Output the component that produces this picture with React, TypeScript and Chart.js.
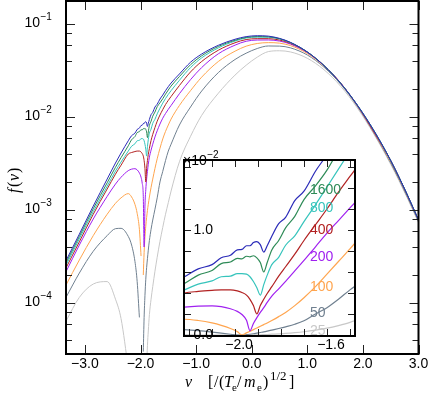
import React, { useEffect, useRef } from 'react';
import { Chart, registerables } from 'chart.js';

Chart.register(...registerables);

// velocity grid [/(Te/me)^1/2]
const V = [-3.34, -3.1, -2.85, -2.6, -2.45, -2.35, -2.22, -2.16, -2.10, -2.06, -2.02, -1.99, -1.97, -1.95, -1.935, -1.92, -1.905, -1.89, -1.875, -1.86, -1.84, -1.81, -1.78, -1.74, -1.70, -1.65, -1.60, -1.55, -1.50, -1.45, -1.3, -1.1, -0.9, -0.6, -0.3, -0.1, 0.1, 0.3, 0.5, 0.7, 1.0, 1.3, 1.6, 1.9, 2.2, 2.5, 2.8, 3.0];

const fTop = [2.85e-4, 5.5e-4, 1.1e-3, 2.15e-3, 3.2e-3, 4.1e-3, 5.55e-3, 6.3e-3, 6.7e-3, 7.35e-3, 7.6e-3, 8.1e-3, 8.15e-3, 8.5e-3, 8.5e-3, 8.8e-3, 8.9e-3, 8.6e-3, 7.9e-3, 8.5e-3, 9.4e-3, 1.06e-2, 1.12e-2, 1.28e-2, 1.37e-2, 1.56e-2, 1.72e-2, 1.92e-2, 2.12e-2, 2.32e-2, 2.9e-2, 3.88e-2, 4.75e-2, 5.9e-2, 6.85e-2, 7.31e-2, 7.48e-2, 7.4e-2, 7.0e-2, 6.33e-2, 5.0e-2, 3.57e-2, 2.3e-2, 1.34e-2, 7.1e-3, 3.4e-3, 1.45e-3, 7.8e-4];
const f1600 = [2.7e-4, 5.2e-4, 1.03e-3, 1.96e-3, 2.88e-3, 3.65e-3, 4.9e-3, 5.7e-3, 6.15e-3, 6.8e-3, 6.95e-3, 7.3e-3, 7.25e-3, 7.5e-3, 7.45e-3, 7.55e-3, 7.35e-3, 6.9e-3, 6.0e-3, 6.9e-3, 8.1e-3, 9.0e-3, 1.02e-2, 1.13e-2, 1.29e-2, 1.42e-2, 1.57e-2, 1.76e-2, 1.95e-2, 2.15e-2, 2.72e-2, 3.65e-2, 4.55e-2, 5.73e-2, 6.68e-2, 7.16e-2, 7.32e-2, 7.28e-2, 6.95e-2, 6.31e-2, 5.0e-2, 3.57e-2, 2.3e-2, 1.34e-2, 7.1e-3, 3.4e-3, 1.45e-3, 7.8e-4];
const f800 = [2.55e-4, 4.9e-4, 9.6e-4, 1.8e-3, 2.62e-3, 3.28e-3, 4.3e-3, 4.85e-3, 5.15e-3, 5.55e-3, 5.6e-3, 5.85e-3, 5.85e-3, 5.8e-3, 5.55e-3, 5.1e-3, 4.5e-3, 3.8e-3, 4.8e-3, 5.7e-3, 6.7e-3, 7.4e-3, 8.55e-3, 9.45e-3, 1.08e-2, 1.24e-2, 1.41e-2, 1.58e-2, 1.75e-2, 1.92e-2, 2.48e-2, 3.4e-2, 4.32e-2, 5.53e-2, 6.55e-2, 7.07e-2, 7.22e-2, 7.2e-2, 6.9e-2, 6.29e-2, 5.0e-2, 3.57e-2, 2.3e-2, 1.34e-2, 7.1e-3, 3.4e-3, 1.45e-3, 7.8e-4];
const f400 = [2.38e-4, 4.55e-4, 9.0e-4, 1.68e-3, 2.43e-3, 3.03e-3, 4.0e-3, 4.15e-3, 4.25e-3, 4.3e-3, 4.3e-3, 4.2e-3, 4.05e-3, 3.8e-3, 3.4e-3, 2.8e-3, 2.0e-3, 2.8e-3, 3.4e-3, 3.95e-3, 4.6e-3, 5.6e-3, 6.5e-3, 7.7e-3, 9.0e-3, 1.05e-2, 1.2e-2, 1.36e-2, 1.51e-2, 1.66e-2, 2.18e-2, 3.05e-2, 3.95e-2, 5.22e-2, 6.28e-2, 6.8e-2, 6.95e-2, 6.95e-2, 6.72e-2, 6.18e-2, 4.98e-2, 3.58e-2, 2.32e-2, 1.33e-2, 6.9e-3, 3.4e-3, 1.44e-3, 7.8e-4];
const f200 = [2.17e-4, 4.2e-4, 8.0e-4, 1.4e-3, 1.9e-3, 2.25e-3, 2.65e-3, 2.75e-3, 2.78e-3, 2.7e-3, 2.5e-3, 2.25e-3, 1.95e-3, 1.4e-3, 4.0e-4, 1.1e-3, 1.65e-3, 2.15e-3, 2.6e-3, 3.1e-3, 3.7e-3, 4.4e-3, 5.1e-3, 6.1e-3, 7.1e-3, 8.4e-3, 9.7e-3, 1.09e-2, 1.21e-2, 1.33e-2, 1.78e-2, 2.52e-2, 3.4e-2, 4.78e-2, 5.92e-2, 6.52e-2, 6.72e-2, 6.73e-2, 6.55e-2, 6.07e-2, 4.93e-2, 3.56e-2, 2.31e-2, 1.33e-2, 6.9e-3, 3.4e-3, 1.44e-3, 7.8e-4];
const f100 = [1.56e-4, 2.9e-4, 5.3e-4, 9.0e-4, 1.18e-3, 1.35e-3, 1.5e-3, 1.38e-3, 1.15e-3, 9.2e-4, 6.2e-4, 3.2e-4, 0, 2.0e-4, 3.5e-4, 5.1e-4, 6.7e-4, 8.3e-4, 9.9e-4, 1.15e-3, 1.38e-3, 1.75e-3, 2.15e-3, 2.8e-3, 3.55e-3, 4.6e-3, 5.8e-3, 7.0e-3, 8.2e-3, 9.5e-3, 1.33e-2, 1.92e-2, 2.68e-2, 3.95e-2, 5.1e-2, 5.77e-2, 6.17e-2, 6.3e-2, 6.22e-2, 5.85e-2, 4.82e-2, 3.52e-2, 2.29e-2, 1.32e-2, 6.8e-3, 3.3e-3, 1.42e-3, 7.7e-4];
const f50 = [1.15e-4, 2.1e-4, 3.6e-4, 5.3e-4, 6.3e-4, 6.35e-4, 5.2e-4, 4.2e-4, 2.8e-4, 1.7e-4, 7e-5, 0, 0, 3e-5, 7e-5, 1.2e-4, 1.8e-4, 2.4e-4, 3.0e-4, 3.7e-4, 4.7e-4, 6.2e-4, 7.8e-4, 1.02e-3, 1.35e-3, 2.0e-3, 2.6e-3, 3.4e-3, 4.3e-3, 5.1e-3, 8.2e-3, 1.28e-2, 1.9e-2, 3.0e-2, 4.15e-2, 4.85e-2, 5.45e-2, 5.8e-2, 5.78e-2, 5.53e-2, 4.64e-2, 3.43e-2, 2.25e-2, 1.3e-2, 6.7e-3, 3.2e-3, 1.38e-3, 7.5e-4];
const f25 = [6.4e-5, 1.15e-4, 1.6e-4, 1.7e-4, 1.1e-4, 6.8e-5, 2.0e-5, 0, 0, 0, 0, 0, 0, 0, 0, 0, 1e-5, 2e-5, 3.5e-5, 5e-5, 7.5e-5, 1.1e-4, 1.5e-4, 2.2e-4, 3.1e-4, 4.6e-4, 6.5e-4, 9.0e-4, 1.2e-3, 1.6e-3, 3.3e-3, 6.2e-3, 1.04e-2, 1.8e-2, 2.82e-2, 3.6e-2, 4.4e-2, 5.05e-2, 5.15e-2, 5.0e-2, 4.28e-2, 3.22e-2, 2.14e-2, 1.25e-2, 6.5e-3, 3.1e-3, 1.34e-3, 7.3e-4];

const seriesLabels = ['', '1600', '800', '400', '200', '100', '50', '25'];
const seriesValues = [fTop, f1600, f800, f400, f200, f100, f50, f25];
const seriesColors = ['#2b2bb8', '#2e8b57', '#36c4bc', '#b22222', '#a020f0', '#ffa54f', '#708090', '#c8c8c8'];

const xTickValues = [-3, -2, -1, 0, 1, 2, 3];
const xTickLabels = ['\u22123.0', '\u22122.0', '\u22121.0', '0.0', '1.0', '2.0', '3.0'];
const yMajorValues = [1e-4, 1e-3, 1e-2, 1e-1];
const yMajorExponents = ['\u22124', '\u22123', '\u22122', '\u22121'];
const yMinorValues = [4e-5, 6e-5, 8e-5, 2e-4, 4e-4, 6e-4, 8e-4, 2e-3, 4e-3, 6e-3, 8e-3, 2e-2, 4e-2, 6e-2, 8e-2];

const insetXTicks = [-2.2, -2.1, -2.0, -1.9, -1.8, -1.7, -1.6, -1.5];
const insetXLabelValues = [-2.0, -1.6];
const insetXLabels = ['\u22122.0', '\u22121.6'];
const insetYTicks = [0, 0.002, 0.004, 0.006, 0.008, 0.01, 0.012, 0.014, 0.016];
const insetYLabelValues = [0, 0.01];
const insetYLabels = ['0.0', '1.0'];

const SANS = '"Liberation Sans", Arial, Helvetica, sans-serif';
const SERIF = '"Liberation Serif", "Times New Roman", serif';

type Seg = [string, 'i' | 'n' | 'sub' | 'sup', number];

function segFont(kind: string, size: number) {
  if (kind === 'sub') return `${Math.round(size * 0.7)}px ${SERIF}`;
  if (kind === 'sup') return `${Math.round(size * 0.8)}px ${SERIF}`;
  return `${kind === 'i' ? 'italic ' : ''}${size}px ${SERIF}`;
}
// segments drawn at explicit x offsets
function drawSegs(ctx: CanvasRenderingContext2D, segs: Seg[], x: number, y: number, size: number) {
  ctx.textAlign = 'left';
  ctx.textBaseline = 'alphabetic';
  for (const [t, k, dx] of segs) {
    ctx.font = segFont(k, size);
    const dy = k === 'sub' ? size * 0.28 : k === 'sup' ? -size * 0.42 : 0;
    ctx.fillText(t, x + dx, y + dy);
  }
}

const mainDecor = {
  id: 'mainDecor',
  afterDraw(chart: any) {
    const { ctx, chartArea: a, scales } = chart;
    const x = scales.x, y = scales.y;
    ctx.save();
    ctx.strokeStyle = '#222';
    ctx.lineWidth = 1;
    const seg = (x1: number, y1: number, x2: number, y2: number) => {
      ctx.beginPath(); ctx.moveTo(x1, y1); ctx.lineTo(x2, y2); ctx.stroke();
    };
    xTickValues.forEach((v) => {
      const px = Math.round(x.getPixelForValue(v)) + 0.5;
      seg(px, a.bottom, px, a.bottom - 9);
      seg(px, a.top, px, a.top + 9);
    });
    yMajorValues.forEach((v) => {
      const py = Math.round(y.getPixelForValue(v)) + 0.5;
      seg(a.left, py, a.left + 9, py);
      seg(a.right, py, a.right - 9, py);
    });
    yMinorValues.forEach((v) => {
      const py = Math.round(y.getPixelForValue(v)) + 0.5;
      seg(a.left, py, a.left + 6, py);
      seg(a.right, py, a.right - 6, py);
    });
    ctx.strokeStyle = '#000';
    ctx.lineWidth = 2;
    ctx.strokeRect(a.left, a.top, a.right - a.left, a.bottom - a.top);

    ctx.fillStyle = '#000';
    ctx.font = `14px ${SANS}`;
    ctx.textAlign = 'center';
    ctx.textBaseline = 'middle';
    xTickValues.forEach((v, i) => {
      ctx.fillText(xTickLabels[i], x.getPixelForValue(v), a.bottom + 10);
    });
    yMajorValues.forEach((v, i) => {
      const py = y.getPixelForValue(v);
      const right = a.left - 26;
      ctx.font = `14px ${SANS}`;
      ctx.textAlign = 'right';
      ctx.textBaseline = 'middle';
      ctx.fillText('10', right, py - 1);
      ctx.font = `10px ${SANS}`;
      ctx.textAlign = 'left';
      ctx.fillText(yMajorExponents[i], right + 0.5, py - 7);
    });

    // axis titles
    const xt: Seg[] = [['v', 'i', 0], ['[', 'n', 23], ['/', 'n', 29], ['(', 'n', 34], ['T', 'i', 39], ['e', 'sub', 47], ['/', 'n', 52], ['m', 'i', 59], ['e', 'sub', 72], [')', 'n', 78], ['1/2', 'sup', 85], [']', 'n', 104]];
    drawSegs(ctx, xt, 185, 387, 16);
    const yt: Seg[] = [['f', 'i', 0], ['(', 'n', 6], ['v', 'i', 12], [')', 'n', 20]];
    ctx.save();
    ctx.translate(19, 193);
    ctx.rotate(-Math.PI / 2);
    drawSegs(ctx, yt, 0, 0, 16);
    ctx.restore();
    ctx.restore();
  },
};

const insetDecor = {
  id: 'insetDecor',
  beforeDatasetsDraw(chart: any) {
    const { ctx, chartArea: a } = chart;
    ctx.save();
    ctx.fillStyle = '#fff';
    ctx.fillRect(a.left, a.top, a.right - a.left, a.bottom - a.top);
    ctx.restore();
  },
  afterDraw(chart: any) {
    const { ctx, chartArea: a, scales } = chart;
    const x = scales.x, y = scales.y;
    ctx.save();
    ctx.strokeStyle = '#222';
    ctx.lineWidth = 1;
    const seg = (x1: number, y1: number, x2: number, y2: number) => {
      ctx.beginPath(); ctx.moveTo(x1, y1); ctx.lineTo(x2, y2); ctx.stroke();
    };
    insetXTicks.forEach((v) => {
      const px = Math.round(x.getPixelForValue(v)) + 0.5;
      seg(px, a.bottom, px, a.bottom - 7);
      seg(px, a.top, px, a.top + 7);
    });
    insetYTicks.forEach((v) => {
      const py = Math.round(y.getPixelForValue(v)) + 0.5;
      seg(a.left, py, a.left + 7, py);
      seg(a.right, py, a.right - 7, py);
    });
    ctx.strokeStyle = '#000';
    ctx.lineWidth = 2;
    ctx.strokeRect(a.left, a.top, a.right - a.left, a.bottom - a.top);

    ctx.fillStyle = '#000';
    ctx.font = `14px ${SANS}`;
    ctx.textAlign = 'center';
    ctx.textBaseline = 'middle';
    insetXLabelValues.forEach((v, i) => {
      ctx.fillText(insetXLabels[i], x.getPixelForValue(v) + 4, a.bottom + 9);
    });
    ctx.textAlign = 'right';
    insetYLabelValues.forEach((v, i) => {
      ctx.fillText(insetYLabels[i], a.left + 29, y.getPixelForValue(v));
    });
    ctx.textAlign = 'left';
    ctx.fillText('\u00d710', a.left - 1, a.top + 1);
    const w = ctx.measureText('\u00d710').width;
    ctx.font = `10px ${SANS}`;
    ctx.fillText('\u22122', a.left - 1 + w + 0.5, a.top - 5);

    // curve labels
    const labelX = -1.674;
    const labelY = [0, 0.01381, 0.0121, 0.0100, 0.00743, 0.00457, 0.0021, 0.00038];
    ctx.font = `14px ${SANS}`;
    ctx.textAlign = 'left';
    ctx.textBaseline = 'middle';
    seriesLabels.forEach((t, i) => {
      if (!t) return;
      ctx.fillStyle = seriesColors[i];
      ctx.fillText(t, x.getPixelForValue(labelX), y.getPixelForValue(labelY[i]));
    });
    ctx.restore();
  },
};

function makeDatasets(width: number) {
  return seriesValues.map((vals, s) => ({
    data: V.map((v, i) => ({ x: v, y: vals[i] })),
    borderColor: seriesColors[s],
    borderWidth: width,
    pointRadius: 0,
    fill: false,
    cubicInterpolationMode: 'monotone' as const,
  }));
}

export default function App() {
  const mainRef = useRef<HTMLCanvasElement>(null);
  const insetRef = useRef<HTMLCanvasElement>(null);

  useEffect(() => {
    document.body.style.margin = '0';
    const main = new Chart(mainRef.current!, {
      type: 'line',
      data: { datasets: makeDatasets(1) },
      options: {
        animation: false,
        responsive: false,
        devicePixelRatio: 1,
        events: [],
        layout: { padding: { left: 66, right: 10.5, top: 1, bottom: 44 } },
        scales: {
          x: { type: 'linear', min: -3.34, max: 3.0, display: false },
          y: { type: 'logarithmic', min: 2.83e-5, max: 0.1766, display: false },
        },
        plugins: { legend: { display: false }, tooltip: { enabled: false } },
      },
      plugins: [mainDecor],
    } as any);
    const inset = new Chart(insetRef.current!, {
      type: 'line',
      data: { datasets: makeDatasets(1.2) },
      options: {
        animation: false,
        responsive: false,
        devicePixelRatio: 1,
        events: [],
        layout: { padding: { left: 20, right: 19, top: 20, bottom: 24 } },
        scales: {
          x: { type: 'linear', min: -2.222, max: -1.478, display: false },
          y: { type: 'linear', min: -0.0000952, max: 0.016667, display: false },
        },
        plugins: { legend: { display: false }, tooltip: { enabled: false } },
      },
      plugins: [insetDecor],
    } as any);
    return () => {
      main.destroy();
      inset.destroy();
    };
  }, []);

  return (
    <div style={{ position: 'fixed', left: 0, top: 0, width: 429, height: 398, background: '#fff' }}>
      <canvas ref={mainRef} width={429} height={398} style={{ position: 'absolute', left: 0, top: 0, width: 429, height: 398 }} />
      <canvas ref={insetRef} width={210} height={220} style={{ position: 'absolute', left: 164, top: 140, width: 210, height: 220 }} />
    </div>
  );
}
